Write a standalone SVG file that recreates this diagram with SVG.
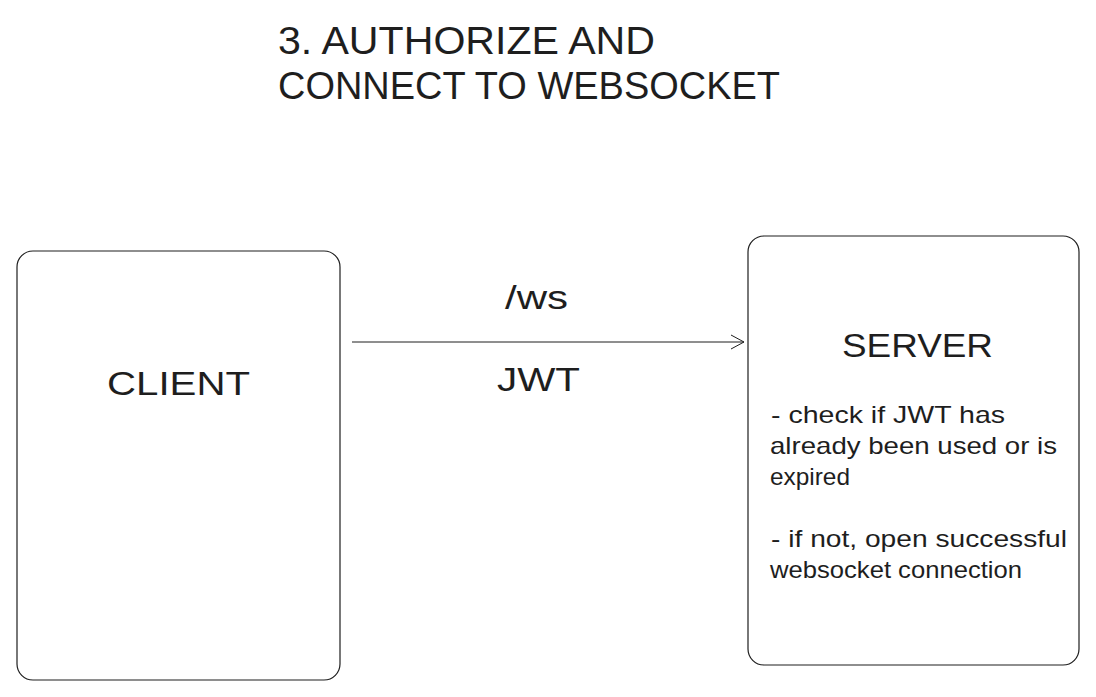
<svg xmlns="http://www.w3.org/2000/svg" width="1096" height="697" viewBox="0 0 1096 697">
<style>
.box{fill:#ffffff;stroke:#1e1e1e;stroke-width:1.2}
.t{font-family:"Liberation Sans","Open Sans",sans-serif;fill:#1e1e1e}
.big{font-size:34px}
.title{font-size:38px}
.body{font-size:24px}
.conn{stroke:#1e1e1e;stroke-width:1;fill:none}
</style>
<rect width="1096" height="697" fill="#ffffff"/>
<g id="title">
<text class="t title" x="278" y="54" textLength="377" lengthAdjust="spacingAndGlyphs">3. AUTHORIZE AND</text>
<text class="t title" x="278" y="99" textLength="502" lengthAdjust="spacingAndGlyphs">CONNECT TO WEBSOCKET</text>
</g>
<g id="client">
<rect class="box" x="17" y="251" width="323" height="429" rx="16"/>
<text class="t big" x="107" y="395" textLength="143" lengthAdjust="spacingAndGlyphs">CLIENT</text>
</g>
<g id="server">
<rect class="box" x="748" y="236" width="331" height="429" rx="16"/>
<text class="t big" x="842" y="357" textLength="151" lengthAdjust="spacingAndGlyphs">SERVER</text>
<text class="t body" x="771" y="423" textLength="234" lengthAdjust="spacingAndGlyphs">- check if JWT has</text>
<text class="t body" x="770" y="454" textLength="287" lengthAdjust="spacingAndGlyphs">already been used or is</text>
<text class="t body" x="770" y="485" textLength="80" lengthAdjust="spacingAndGlyphs">expired</text>
<text class="t body" x="771" y="547" textLength="296" lengthAdjust="spacingAndGlyphs">- if not, open successful</text>
<text class="t body" x="770" y="578" textLength="252" lengthAdjust="spacingAndGlyphs">websocket connection</text>
</g>
<g id="connectors">
<path class="conn" d="M352 342 L744 342"/>
<path class="conn" d="M731 335 L744 342 L731 349"/>
<text class="t big" x="505" y="309" textLength="63" lengthAdjust="spacingAndGlyphs">/ws</text>
<text class="t big" x="497" y="391" textLength="83" lengthAdjust="spacingAndGlyphs">JWT</text>
</g>
</svg>
